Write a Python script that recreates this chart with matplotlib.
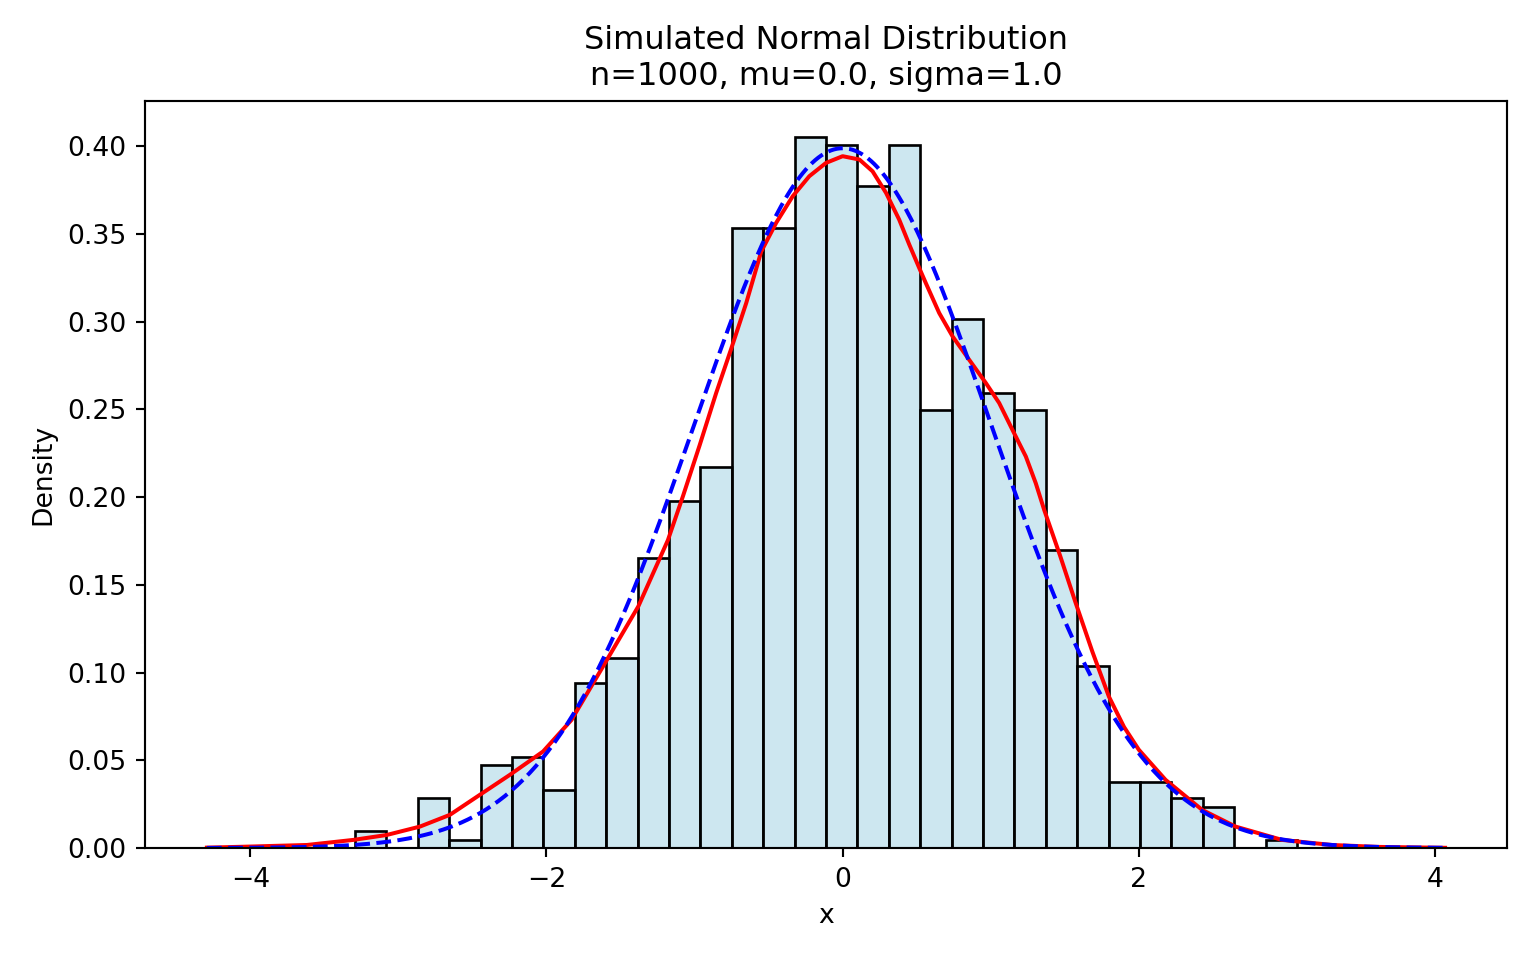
import numpy as np
import matplotlib
matplotlib.use("Agg")
import matplotlib.pyplot as plt

# Sample info
n = 1000
mu = 0.0
sigma = 1.0
data_min = -3.293
data_max = 3.068

# Histogram counts (30 equal-width bins between data_min and data_max)
counts = [2, 0, 6, 1, 10, 11, 7, 20, 23, 35, 42, 46, 75, 75, 86,
          85, 80, 85, 53, 64, 55, 53, 36, 22, 8, 8, 6, 5, 0, 1]

# KDE curve
kde_x = [-4.293, -4.046, -3.618, -3.304, -3.079, -2.854, -2.652, -2.45, -2.247,
         -2.023, -1.831, -1.618, -1.38, -1.18, -1.079, -0.966, -0.854, -0.753,
         -0.651, -0.55, -0.449,
         -0.337, -0.225, -0.112, 0.0, 0.113, 0.202, 0.293, 0.382, 0.45, 0.517,
         0.562, 0.652, 0.742, 0.854, 0.967, 1.057, 1.146, 1.237, 1.304, 1.36,
         1.467, 1.574, 1.686, 1.798, 1.9, 2.0, 2.181, 2.428, 2.653, 2.967,
         3.304, 3.62, 4.068]
kde_y = [0.0002, 0.0007, 0.0017, 0.0046, 0.0074, 0.0122, 0.0189, 0.0303, 0.0417,
         0.055, 0.073, 0.1035, 0.1377, 0.1755, 0.2004, 0.2295, 0.2594, 0.2845,
         0.3107, 0.340, 0.3564,
         0.3716, 0.383, 0.3906, 0.3944, 0.3925, 0.3858, 0.3735, 0.3582, 0.344, 0.3307,
         0.322, 0.305, 0.2917, 0.2784, 0.2651, 0.2537, 0.2385, 0.2232, 0.208, 0.193,
         0.167, 0.1396, 0.112, 0.0863, 0.069, 0.056, 0.0388, 0.0217, 0.0122, 0.0046,
         0.0017, 0.0006, 0.0001]

edges = np.linspace(data_min, data_max, len(counts) + 1)
width = edges[1] - edges[0]
density = np.array(counts) / (n * width)

fig, ax = plt.subplots(figsize=(8, 5), dpi=192)
fig.subplots_adjust(left=0.0944, right=0.9811, bottom=0.1167, top=0.8948)
ax.bar(edges[:-1], density, width=width, align='edge',
       facecolor=(173/255, 216/255, 230/255, 0.6), edgecolor='black', linewidth=1.0)

xs = np.linspace(data_min - 1, data_max + 1, 400)
pdf = np.exp(-0.5 * ((xs - mu) / sigma) ** 2) / (sigma * np.sqrt(2 * np.pi))
ax.plot(kde_x, kde_y, color='red', linewidth=1.5)
ax.plot(xs, pdf, color='blue', linestyle='--', linewidth=1.5)

ax.set_title(f"Simulated Normal Distribution\nn={n}, mu={mu}, sigma={sigma}")
ax.set_xlabel("x")
ax.set_ylabel("Density")
fig.savefig("out.png")
